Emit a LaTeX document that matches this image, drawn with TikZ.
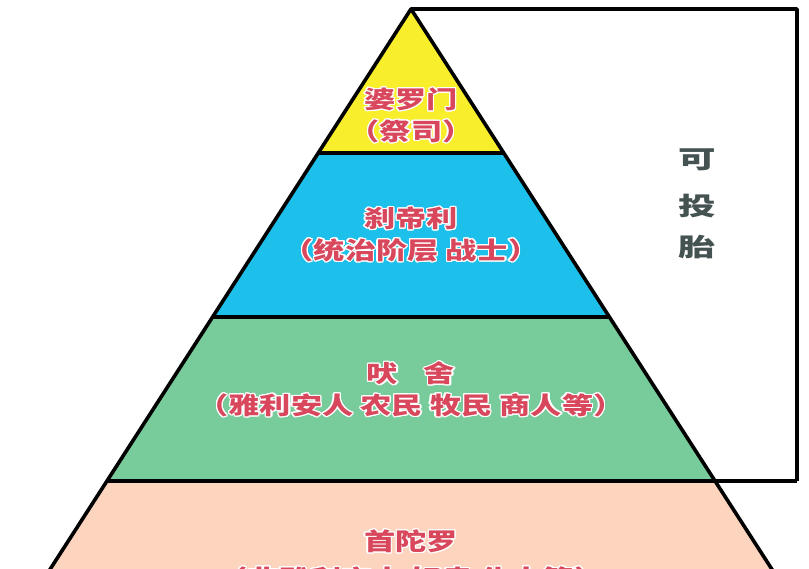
\documentclass[tikz,border=0pt]{standalone}
\usepackage{fontspec}
\newfontfamily\cjk{Noto Sans CJK SC}[FakeStretch=1.3]
\newfontfamily\cjkwide{Noto Sans CJK SC}[FakeStretch=1.5]
\usepackage[copies]{contour}
\contourlength{1.3pt}
\usetikzlibrary{positioning}

\definecolor{brahminyellow}{HTML}{F9EE2B}
\definecolor{kshatriyablue}{HTML}{1CC0EA}
\definecolor{vaishyagreen}{HTML}{78CB9B}
\definecolor{shudrapeach}{HTML}{FDD5BE}
\definecolor{castered}{HTML}{D8475C}
\definecolor{reborngray}{HTML}{455252}

\newcommand{\halo}[1]{\contour{white}{#1}}

\begin{document}
\begin{tikzpicture}[
  x=1pt, y=-1pt,
  node distance=7pt,
  border/.style={line width=3.6pt, line join=round},
  caste/.style={inner sep=0pt, text=castered,
    font=\cjk\bfseries\fontsize{24}{24}\selectfont},
  reborn/.style={inner sep=0pt, text=reborngray,
    font=\cjkwide\bfseries\fontsize{25}{25}\selectfont}
]
  \useasboundingbox (0,0) rectangle (809,569);
  \clip (0,0) rectangle (809,569);

  % pyramid corners
  \coordinate (apex) at (411,9);
  \coordinate (b1l) at (317.8,153);
  \coordinate (b1r) at (504.2,153);
  \coordinate (b2l) at (212.3,317);
  \coordinate (b2r) at (609.7,317);
  \coordinate (b3l) at (106.9,481);
  \coordinate (b3r) at (715.1,481);
  \coordinate (b4l) at (30.3,600);
  \coordinate (b4r) at (791.7,600);
  \coordinate (boxtr) at (797,9);
  \coordinate (boxbr) at (797,481);

  % layers
  \fill[brahminyellow] (apex) -- (b1r) -- (b1l) -- cycle;
  \fill[kshatriyablue] (b1l) -- (b1r) -- (b2r) -- (b2l) -- cycle;
  \fill[vaishyagreen] (b2l) -- (b2r) -- (b3r) -- (b3l) -- cycle;
  \fill[shudrapeach] (b3l) -- (b3r) -- (b4r) -- (b4l) -- cycle;

  \draw[border] (b4l) -- (apex) -- (b4r);
  \draw[border] (b1l) -- (b1r);
  \draw[border] (b2l) -- (b2r);
  \draw[border] (b3l) -- (boxbr);
  \draw[border] (apex) -- (boxtr) -- (boxbr);

  % labels
  \node[caste] (brahmin) at (411,100) {\halo{婆罗门}};
  \node[caste, below=of brahmin] (brahminnote) {\halo{（祭司）}};
  \node[caste] (kshatriya) at (411,219) {\halo{刹帝利}};
  \node[caste, below=of kshatriya] (kshatriyanote) {\halo{（统治阶层 战士）}};
  \node[caste] (vaishya) at (411,374) {\halo{吠\hspace{26pt}舍}};
  \node[caste, below=of vaishya] (vaishyanote) {\halo{（雅利安人 农民 牧民 商人等）}};
  \node[caste] (shudra) at (411,542) {\halo{首陀罗}};
  \node[caste, below=12pt of shudra] (shudranote) {\halo{（非雅利安人 奴隶 仆人等）}};

  \node[reborn] (ke) at (697,160) {\halo{可}};
  \node[reborn, below=22pt of ke] (tou) {\halo{投}};
  \node[reborn, below=16pt of tou] (tai) {\halo{胎}};
\end{tikzpicture}
\end{document}
